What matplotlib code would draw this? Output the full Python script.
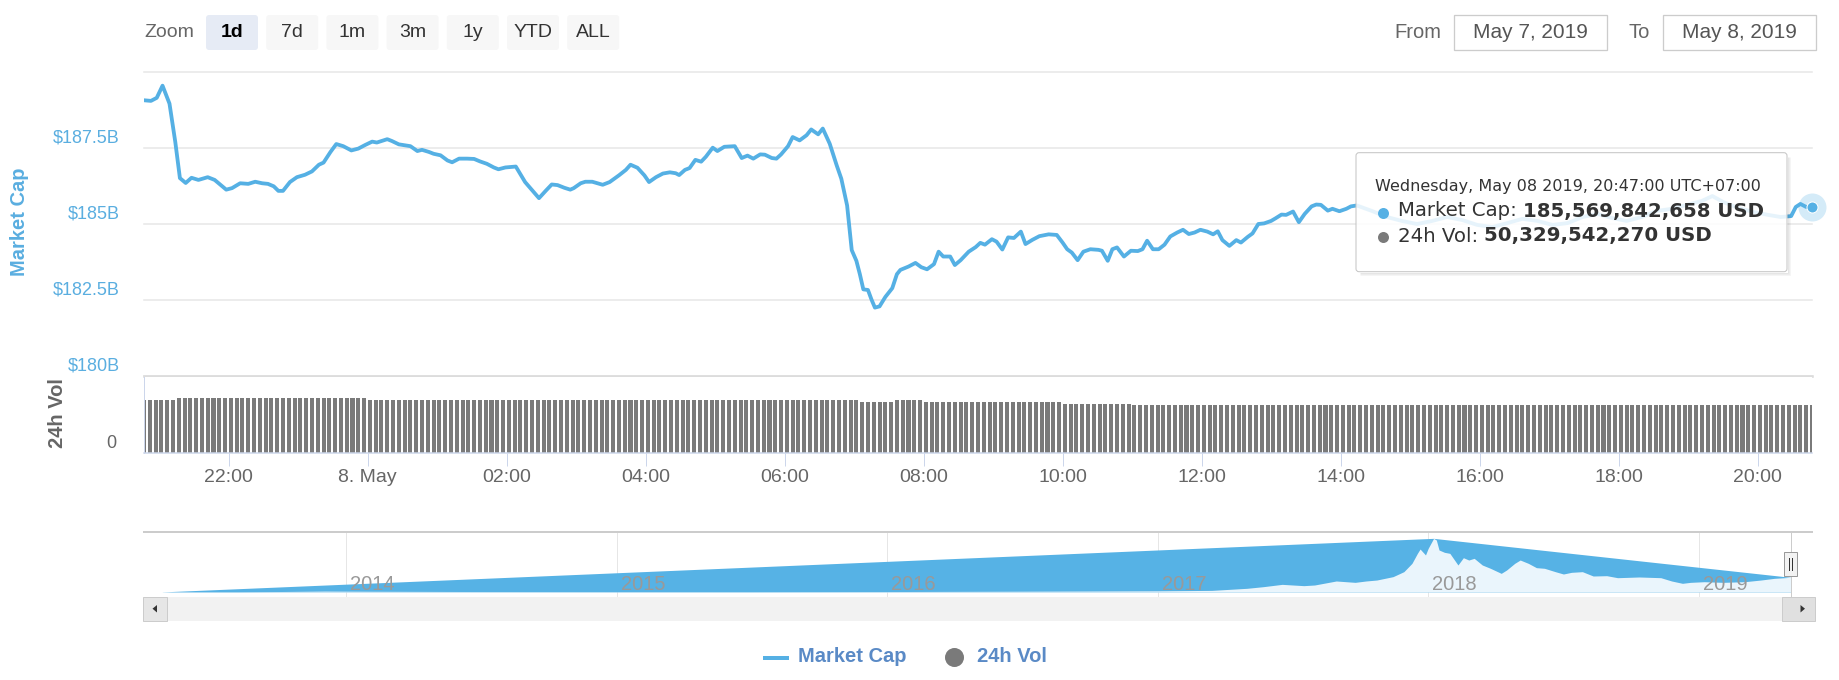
import numpy as np
import matplotlib
matplotlib.use("Agg")
import matplotlib.pyplot as plt
from matplotlib.patches import FancyBboxPatch, Rectangle, Polygon

W, H = 1840, 680
PT = 0.72  # pixels -> points at dpi 100

# ---------------- data ----------------
# minutes relative to 8 May 2019 00:00 (UTC+07:00)
mc_minutes = [
    -193, -187, -182, -177, -171, -166, -162, -157, -152, -146, -138, -132, -122, -117,
    -110, -103, -97, -91, -86, -81, -77, -73, -67, -61, -54, -48, -42, -38, -32, -27,
    -21, -14, -8, -2, 4, 8, 17, 21, 27, 37, 43, 47, 53, 57, 63, 69, 73, 79, 86, 92, 97,
    103, 109, 113, 119, 128, 136, 148, 154, 159, 164, 170, 175, 178, 184, 188, 194, 203,
    209, 217, 223, 227, 233, 239, 243, 249, 255, 261, 266, 269, 274, 278, 283, 288, 292,
    298, 302, 308, 317, 323, 328, 333, 339, 343, 349, 353, 357, 363, 367, 373, 379, 383,
    389, 393, 399, 405, 409, 414, 418, 422, 425, 428, 432, 435, 438, 442, 447, 453, 457,
    460, 467, 473, 478, 483, 489, 493, 497, 503, 507, 512, 519, 525, 529, 533, 539, 543,
    548, 553, 558, 564, 568, 574, 580, 588, 595, 600, 604, 608, 613, 618, 624, 631, 634,
    639, 643, 647, 653, 659, 665, 669, 673, 678, 683, 688, 693, 699, 704, 709, 714, 719,
    725, 730, 734, 738, 744, 750, 754, 760, 764, 769, 774, 780, 784, 789, 793, 799, 804,
    809, 815, 819, 823, 829, 833, 839, 845, 849, 854, 867, 880, 893, 906, 919, 932, 945,
    958, 971, 984, 997, 1010, 1023, 1036, 1049, 1062, 1074, 1087, 1100, 1113, 1126, 1139,
    1152, 1161, 1170, 1183, 1196, 1209, 1220, 1229, 1233, 1237, 1242, 1247,
]
# market cap in $B
mc_values = [
    189.07, 189.05, 189.15, 189.55, 188.96, 187.70, 186.51, 186.35, 186.52, 186.45, 186.54,
    186.45, 186.13, 186.18, 186.34, 186.32, 186.39, 186.34, 186.32, 186.24, 186.09, 186.09,
    186.38, 186.54, 186.62, 186.73, 186.95, 187.02, 187.37, 187.63, 187.56, 187.42, 187.48,
    187.60, 187.71, 187.68, 187.79, 187.73, 187.62, 187.56, 187.40, 187.44, 187.37, 187.31,
    187.26, 187.09, 187.03, 187.15, 187.15, 187.14, 187.06, 186.98, 186.86, 186.80, 186.86,
    186.89, 186.38, 185.85, 186.10, 186.30, 186.28, 186.19, 186.13, 186.18, 186.34, 186.39,
    186.39, 186.29, 186.38, 186.60, 186.78, 186.95, 186.85, 186.60, 186.38, 186.54, 186.66,
    186.70, 186.67, 186.61, 186.78, 186.84, 187.11, 187.05, 187.21, 187.51, 187.40, 187.54,
    187.56, 187.17, 187.25, 187.15, 187.29, 187.28, 187.17, 187.15, 187.29, 187.56, 187.86,
    187.75, 187.92, 188.11, 187.95, 188.14, 187.64, 186.93, 186.49, 185.61, 184.14, 183.79,
    183.35, 182.85, 182.83, 182.52, 182.25, 182.29, 182.60, 182.89, 183.35, 183.49, 183.60,
    183.72, 183.58, 183.51, 183.68, 184.09, 183.93, 183.93, 183.65, 183.81, 184.09, 184.24,
    184.38, 184.32, 184.50, 184.42, 184.16, 184.56, 184.54, 184.75, 184.34, 184.48, 184.60,
    184.66, 184.64, 184.39, 184.17, 184.06, 183.81, 184.09, 184.17, 184.15, 184.12, 183.79,
    184.17, 184.23, 183.93, 184.12, 184.11, 184.17, 184.45, 184.17, 184.17, 184.32, 184.59,
    184.72, 184.81, 184.67, 184.72, 184.81, 184.75, 184.66, 184.76, 184.47, 184.28, 184.47,
    184.39, 184.58, 184.69, 185.00, 185.02, 185.10, 185.19, 185.31, 185.30, 185.41, 185.06,
    185.33, 185.58, 185.64, 185.63, 185.44, 185.50, 185.42, 185.50, 185.58, 185.61, 185.43,
    185.23, 185.10, 185.00, 185.10, 185.23, 185.13, 184.97, 184.90, 185.03, 185.17, 185.10,
    184.97, 185.03, 185.23, 185.33, 185.20, 185.10, 185.23, 185.43, 185.50, 185.63, 185.76,
    185.92, 185.73, 185.53, 185.40, 185.30, 185.23, 185.26, 185.56, 185.66, 185.56, 185.57,
]

# 24h volume ($B), one bar every 5 minutes; level changes at these minutes
vol_step = 5
vol_change_minutes = [-193, -163, 0, 425, 455, 481, 602, 660]
vol_levels = [55.6, 58.0, 55.6, 53.8, 55.6, 53.8, 52.1, 50.33]

tick_minutes = [-120, 0, 120, 240, 360, 480, 600, 720, 840, 960, 1080, 1200]
tick_labels = ["22:00", "8. May", "02:00", "04:00", "06:00", "08:00", "10:00",
               "12:00", "14:00", "16:00", "18:00", "20:00"]
y_grid = [180, 182.5, 185, 187.5, 190]
y_labels = ["$180B", "$182.5B", "$185B", "$187.5B", ""]

# navigator: total market cap history ($B)
nav_years = [2013.32, 2013.6, 2013.92, 2014.1, 2014.5, 2015.0, 2015.5, 2016.0, 2016.5,
             2017.0, 2017.2, 2017.33, 2017.39, 2017.46, 2017.54, 2017.58, 2017.66, 2017.73,
             2017.77, 2017.81, 2017.87, 2017.91, 2017.94, 2017.96, 2017.97, 2017.99, 2018.00,
             2018.02, 2018.03, 2018.04, 2018.06, 2018.08, 2018.11, 2018.13, 2018.15, 2018.17,
             2018.20, 2018.23, 2018.27, 2018.29, 2018.32, 2018.34, 2018.37, 2018.40, 2018.43,
             2018.47, 2018.50, 2018.53, 2018.57, 2018.61, 2018.66, 2018.70, 2018.78, 2018.86,
             2018.90, 2018.94, 2018.97, 2019.02, 2019.09, 2019.17, 2019.23, 2019.28, 2019.34]
nav_values = [1.5, 1.3, 14, 11, 7, 4.5, 3.5, 7, 12,
              18, 25, 57, 82, 118, 98, 108, 170, 149,
              170, 185, 237, 314, 443, 597, 664, 572, 675,
              829, 803, 649, 613, 597, 417, 530, 494, 520,
              417, 366, 288, 340, 443, 494, 443, 376, 366,
              314, 278, 304, 314, 247, 252, 221, 232, 221,
              170, 134, 149, 159, 149, 159, 185, 211, 227]
nav_year_ticks = [2014, 2015, 2016, 2017, 2018, 2019]

zoom_buttons = ["1d", "7d", "1m", "3m", "1y", "YTD", "ALL"]
date_from = "May 7, 2019"
date_to = "May 8, 2019"
tooltip_header = "Wednesday, May 08 2019, 20:47:00 UTC+07:00"
tooltip_mc = 185569842658
tooltip_vol = 50329542270

# ---------------- styling ----------------
LINE = '#55b0e4'
AXIS_BLUE = '#5aaee0'
GRID = '#e6e6e6'
BAR = '#7a7a7a'
plt.rcParams['font.family'] = ['Liberation Sans', 'DejaVu Sans']

fig = plt.figure(figsize=(W / 100, H / 100), dpi=100)
fig.patch.set_facecolor('white')


def px_axes(x0, y0, x1, y1, **kw):
    return fig.add_axes([x0 / W, 1 - y1 / H, (x1 - x0) / W, (y1 - y0) / H], **kw)


XMIN, XMAX = mc_minutes[0], mc_minutes[-1]

# ---------------- main pane ----------------
ax = px_axes(144, 72, 1812, 376)
ax.set_xlim(XMIN, XMAX)
ax.set_ylim(180, 190)
for s in ax.spines.values():
    s.set_visible(False)
ax.set_xticks([])
ax.set_yticks([])
for g, lab in zip(y_grid, y_labels):
    ax.axhline(g, color=GRID, lw=1.5 * PT, zorder=0, clip_on=False)
    if lab:
        ax.annotate(lab, xy=(0, g), xycoords=('axes fraction', 'data'),
                    xytext=(-24 * PT, 10 * PT), textcoords='offset points',
                    ha='right', va='center', fontsize=13, color=AXIS_BLUE,
                    annotation_clip=False)
ax.axhline(180, color='#dcdcdc', lw=2.6 * PT, zorder=1, clip_on=False)
ax.axvline(mc_minutes[-1], color='#cccccc', lw=1 * PT, zorder=1)
ax.plot(mc_minutes, mc_values, color=LINE, lw=3.8 * PT, solid_joinstyle='round',
        solid_capstyle='round', zorder=3)
ax.plot([mc_minutes[-1]], [mc_values[-1]], 'o', ms=28 * PT, color=LINE, alpha=0.25,
        mec='none', clip_on=False, zorder=4)
ax.plot([mc_minutes[-1]], [mc_values[-1]], 'o', ms=11 * PT, color=LINE, mec='white',
        mew=1 * PT, clip_on=False, zorder=5)

# ---------------- volume pane ----------------
axv = px_axes(144, 377, 1812, 453)
axv.set_xlim(XMIN, XMAX)
axv.set_ylim(0, 80)
vol_times = np.arange(XMIN, XMAX + 1, vol_step)
idx = np.searchsorted(vol_change_minutes, vol_times, side='right') - 1
vol_values = np.array(vol_levels)[idx]
axv.bar(vol_times, vol_values, width=3.5, color=BAR, lw=0, zorder=2)
axv.axvline(mc_minutes[-1], color='#cccccc', lw=1 * PT, zorder=1)
for k in ['top', 'right']:
    axv.spines[k].set_visible(False)
axv.spines['left'].set_color('#ccd6eb')
axv.spines['left'].set_linewidth(1 * PT)
axv.spines['bottom'].set_color('#ccd6eb')
axv.spines['bottom'].set_linewidth(1.5 * PT)
axv.set_yticks([])
axv.annotate("0", xy=(0, 0), xycoords=('axes fraction', 'data'),
             xytext=(-28 * PT, 10 * PT), textcoords='offset points',
             ha='right', va='center', fontsize=13, color='#666666', annotation_clip=False)
axv.set_xticks(tick_minutes)
axv.set_xticklabels(tick_labels)
axv.tick_params(axis='x', length=13 * PT, width=1 * PT, color='#ccd6eb', labelsize=14,
                labelcolor='#666666', pad=2)

# ---------------- navigator ----------------
axn = px_axes(144, 532, 1812, 592)
axn.set_xlim(2013.252, 2019.419)
axn.set_ylim(0, 927)
for k in ['left', 'right', 'bottom']:
    axn.spines[k].set_visible(False)
axn.spines['top'].set_color('#cccccc')
axn.spines['top'].set_linewidth(2 * PT)
axn.set_xticks([])
axn.set_yticks([])
for yr in nav_year_ticks:
    axn.axvline(yr, ymin=-5 / 60, ymax=1, color=GRID, lw=1 * PT, zorder=0, clip_on=False)
pk = int(np.argmax(nav_values))
hull_x = [nav_years[0], nav_years[pk], nav_years[-1]]
hull_y = [nav_values[0], nav_values[pk], nav_values[-1]]
axn.fill_between(hull_x, hull_y, 0, color='#56b2e5', lw=0, zorder=1)
axn.fill_between(nav_years, nav_values, 0, color='#eaf5fc', lw=0, zorder=2)
for yr in nav_year_ticks:
    axn.annotate(str(yr), xy=(yr, 0), xycoords=('data', 'axes fraction'),
                 xytext=(4 * PT, 8 * PT), textcoords='offset points', ha='left',
                 va='center', fontsize=14.5, color='#999999', zorder=5)
axn.axvline(nav_years[-1], ymin=-5 / 60, ymax=1, color='#cccccc', lw=1 * PT, zorder=3,
            clip_on=False)

# ---------------- overlay (UI chrome) ----------------
ov = fig.add_axes([0, 0, 1, 1], zorder=20)
ov.set_xlim(0, W)
ov.set_ylim(H, 0)
ov.axis('off')
ov.patch.set_alpha(0)

# zoom buttons
ov.text(144, 32.5, "Zoom", fontsize=14, color='#666666', ha='left', va='center')
for i, b in enumerate(zoom_buttons):
    x0 = 206 + i * 60.2
    sel = (i == 0)
    ov.add_patch(FancyBboxPatch((x0, 15), 52, 35, boxstyle='round,pad=0,rounding_size=3',
                                fc='#e6ebf5' if sel else '#f7f7f7', ec='none'))
    ov.text(x0 + 26, 32.5, b, fontsize=14, ha='center', va='center',
            color='#000000' if sel else '#333333', fontweight='bold' if sel else 'normal')

# date range inputs
ov.text(1441, 32.5, "From", fontsize=14.5, color='#666666', ha='right', va='center')
ov.add_patch(Rectangle((1454, 15), 153.5, 35, fc='white', ec='#cccccc', lw=1.3 * PT))
ov.text(1530.7, 32.5, date_from, fontsize=15, color='#555555', ha='center', va='center')
ov.text(1650, 32.5, "To", fontsize=14.5, color='#666666', ha='right', va='center')
ov.add_patch(Rectangle((1662.6, 15), 153, 35, fc='white', ec='#cccccc', lw=1.3 * PT))
ov.text(1739, 32.5, date_to, fontsize=15, color='#555555', ha='center', va='center')

# axis titles
ov.text(20, 222, "Market Cap", rotation=90, ha='center', va='center', fontsize=14.5,
        fontweight='bold', color=AXIS_BLUE)
ov.text(58, 413, "24h Vol", rotation=90, ha='center', va='center', fontsize=14.5,
        fontweight='bold', color='#666666')

# tooltip
tx0, ty0, tw, th = 1356, 152.7, 431, 119
for d, a in [(1, 0.10), (2, 0.07), (3, 0.04)]:
    ov.plot([tx0 + 4, tx0 + tw + d, tx0 + tw + d], [ty0 + th + d, ty0 + th + d, ty0 + 4],
            color='black', alpha=a, lw=1 * PT, solid_capstyle='butt')
ov.add_patch(FancyBboxPatch((tx0, ty0), tw, th, boxstyle='round,pad=0,rounding_size=3',
                            fc=(1, 1, 1, 0.86), ec='#c4c4c4', lw=1 * PT))
TT = ['DejaVu Sans']
ov.text(1375, 186, tooltip_header, fontsize=11.5, color='#333333', ha='left', va='center',
        family=TT)
ov.plot([1382.6], [212.5], 'o', ms=11 * PT, color=LINE, mec='none')
t1 = ov.text(1398, 211, "Market Cap: ", fontsize=14.2, color='#333333', ha='left',
             va='center', family=TT)
ov.annotate(f"{tooltip_mc:,} USD", xy=(1, 0.5), xycoords=t1, ha='left', va='center',
            fontsize=14.2, color='#333333', fontweight='bold', family=TT)
ov.plot([1382.6], [236.7], 'o', ms=11 * PT, color=BAR, mec='none')
t2 = ov.text(1398, 236, "24h Vol: ", fontsize=14.2, color='#333333', ha='left',
             va='center', family=TT)
ov.annotate(f"{tooltip_vol:,} USD", xy=(1, 0.5), xycoords=t2, ha='left', va='center',
            fontsize=14.2, color='#333333', fontweight='bold', family=TT)

# scrollbar
ov.add_patch(Rectangle((144, 597), 1671, 23.5, fc='#f2f2f2', ec='none'))
ov.add_patch(Rectangle((143, 597), 24, 23.5, fc='#e6e6e6', ec='#cccccc', lw=1 * PT))
ov.add_patch(Polygon([[152.5, 608.7], [157, 605], [157, 612.5]], closed=True, fc='#333333',
                     ec='none'))
ov.add_patch(Rectangle((1782, 597), 33, 23.5, fc='#e0e0e0', ec='#cccccc', lw=1 * PT))
ov.add_patch(Polygon([[1805, 608.7], [1800.5, 605], [1800.5, 612.5]], closed=True,
                     fc='#333333', ec='none'))

# navigator handle at the end of the data
hx = ov.transData.inverted().transform(axn.transData.transform((nav_years[-1], 0)))[0]
ov.add_patch(Rectangle((hx - 6.5, 552), 13, 24, fc='#f2f2f2', ec='#999999', lw=1 * PT))
ov.plot([hx - 1.5, hx - 1.5], [558, 570], color='#333333', lw=1 * PT)
ov.plot([hx + 1.5, hx + 1.5], [558, 570], color='#333333', lw=1 * PT)

# legend
ov.plot([763, 789], [657.7, 657.7], color=LINE, lw=4 * PT, solid_capstyle='butt')
ov.text(798, 657, "Market Cap", fontsize=14.5, fontweight='bold', color='#5a8ac6',
        ha='left', va='center')
ov.plot([954], [656.7], 'o', ms=19 * PT, color=BAR, mec='none')
ov.text(977, 657, "24h Vol", fontsize=14.5, fontweight='bold', color='#5a8ac6',
        ha='left', va='center')

fig.savefig('out.png', dpi=100, facecolor='white')
